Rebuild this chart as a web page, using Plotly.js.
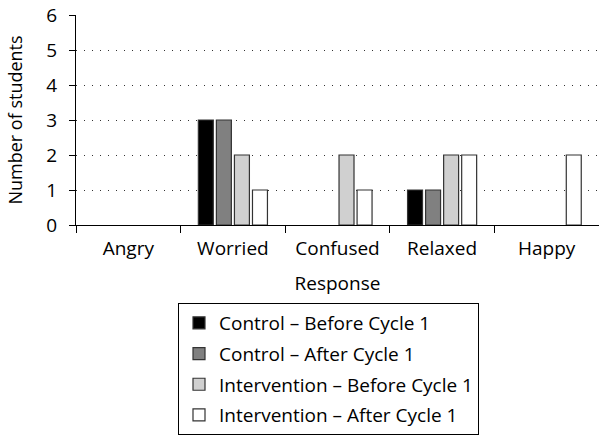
<!DOCTYPE html>
<html><head><meta charset="utf-8">
<script src="https://cdn.plot.ly/plotly-3.0.1.min.js"></script>
<style>html,body{margin:0;padding:0;background:#fff}#chart{width:599px;height:435px}</style>
</head><body><div id="chart"></div>
<script>
const categories = ["Angry", "Worried", "Confused", "Relaxed", "Happy"];
const seriesNames = ["Control – Before Cycle 1", "Control – After Cycle 1", "Intervention – Before Cycle 1", "Intervention – After Cycle 1"];
const controlBefore = [0, 3, 0, 1, 0];
const controlAfter = [0, 3, 0, 1, 0];
const interventionBefore = [0, 2, 2, 2, 0];
const interventionAfter = [0, 1, 1, 2, 2];
const yTicks = [0, 1, 2, 3, 4, 5, 6];

const colors = ["#000000", "#808080", "#d0d0d0", "#ffffff"];
const values = [controlBefore, controlAfter, interventionBefore, interventionAfter];
const font = "'Open Sans', 'Noto Sans', sans-serif";

// zero counts have no visible bar in the reference
const traces = values.map((v, i) => ({
  type: "bar", x: categories, y: v.map(d => d === 0 ? null : d), name: seriesNames[i], legendgroup: "g" + i,
  marker: {color: colors[i], line: {color: "#333333", width: 1.2}}
}));

const layout = {
  width: 599, height: 435,
  margin: {l: 76, r: 0, t: 15, b: 210},
  paper_bgcolor: "#fff", plot_bgcolor: "#fff",
  font: {family: font, color: "#000", size: 19},
  barmode: "group", bargap: 0.31, bargroupgap: 0.17,
  showlegend: true,
  legend: {x: (178 - 76) / 523, xanchor: "left", y: -0.372, yanchor: "top",
    bordercolor: "#000", borderwidth: 1, font: {size: 19, family: font},
    tracegroupgap: 3, traceorder: "grouped"},
  xaxis: {type: "category", showline: true, linecolor: "#000", linewidth: 1,
    ticks: "outside", tickson: "boundaries", ticklen: 7, tickcolor: "#000",
    tickfont: {size: 19}, ticklabelstandoff: 6, showgrid: false,
    title: {text: "Response", font: {size: 19}, standoff: 16}},
  yaxis: {range: [0, 6], tickvals: yTicks, showline: true, linecolor: "#000", linewidth: 1,
    ticks: "outside", ticklen: 6, tickcolor: "#000", tickfont: {size: 19}, ticklabelstandoff: 8,
    showgrid: true, gridcolor: "#333", gridwidth: 1, griddash: "1px,7px",
    zeroline: false,
    title: {text: "Number of students", font: {size: 18}, standoff: 19}}
};

Plotly.newPlot("chart", traces, layout, {staticPlot: true, displayModeBar: false});
</script></body></html>
